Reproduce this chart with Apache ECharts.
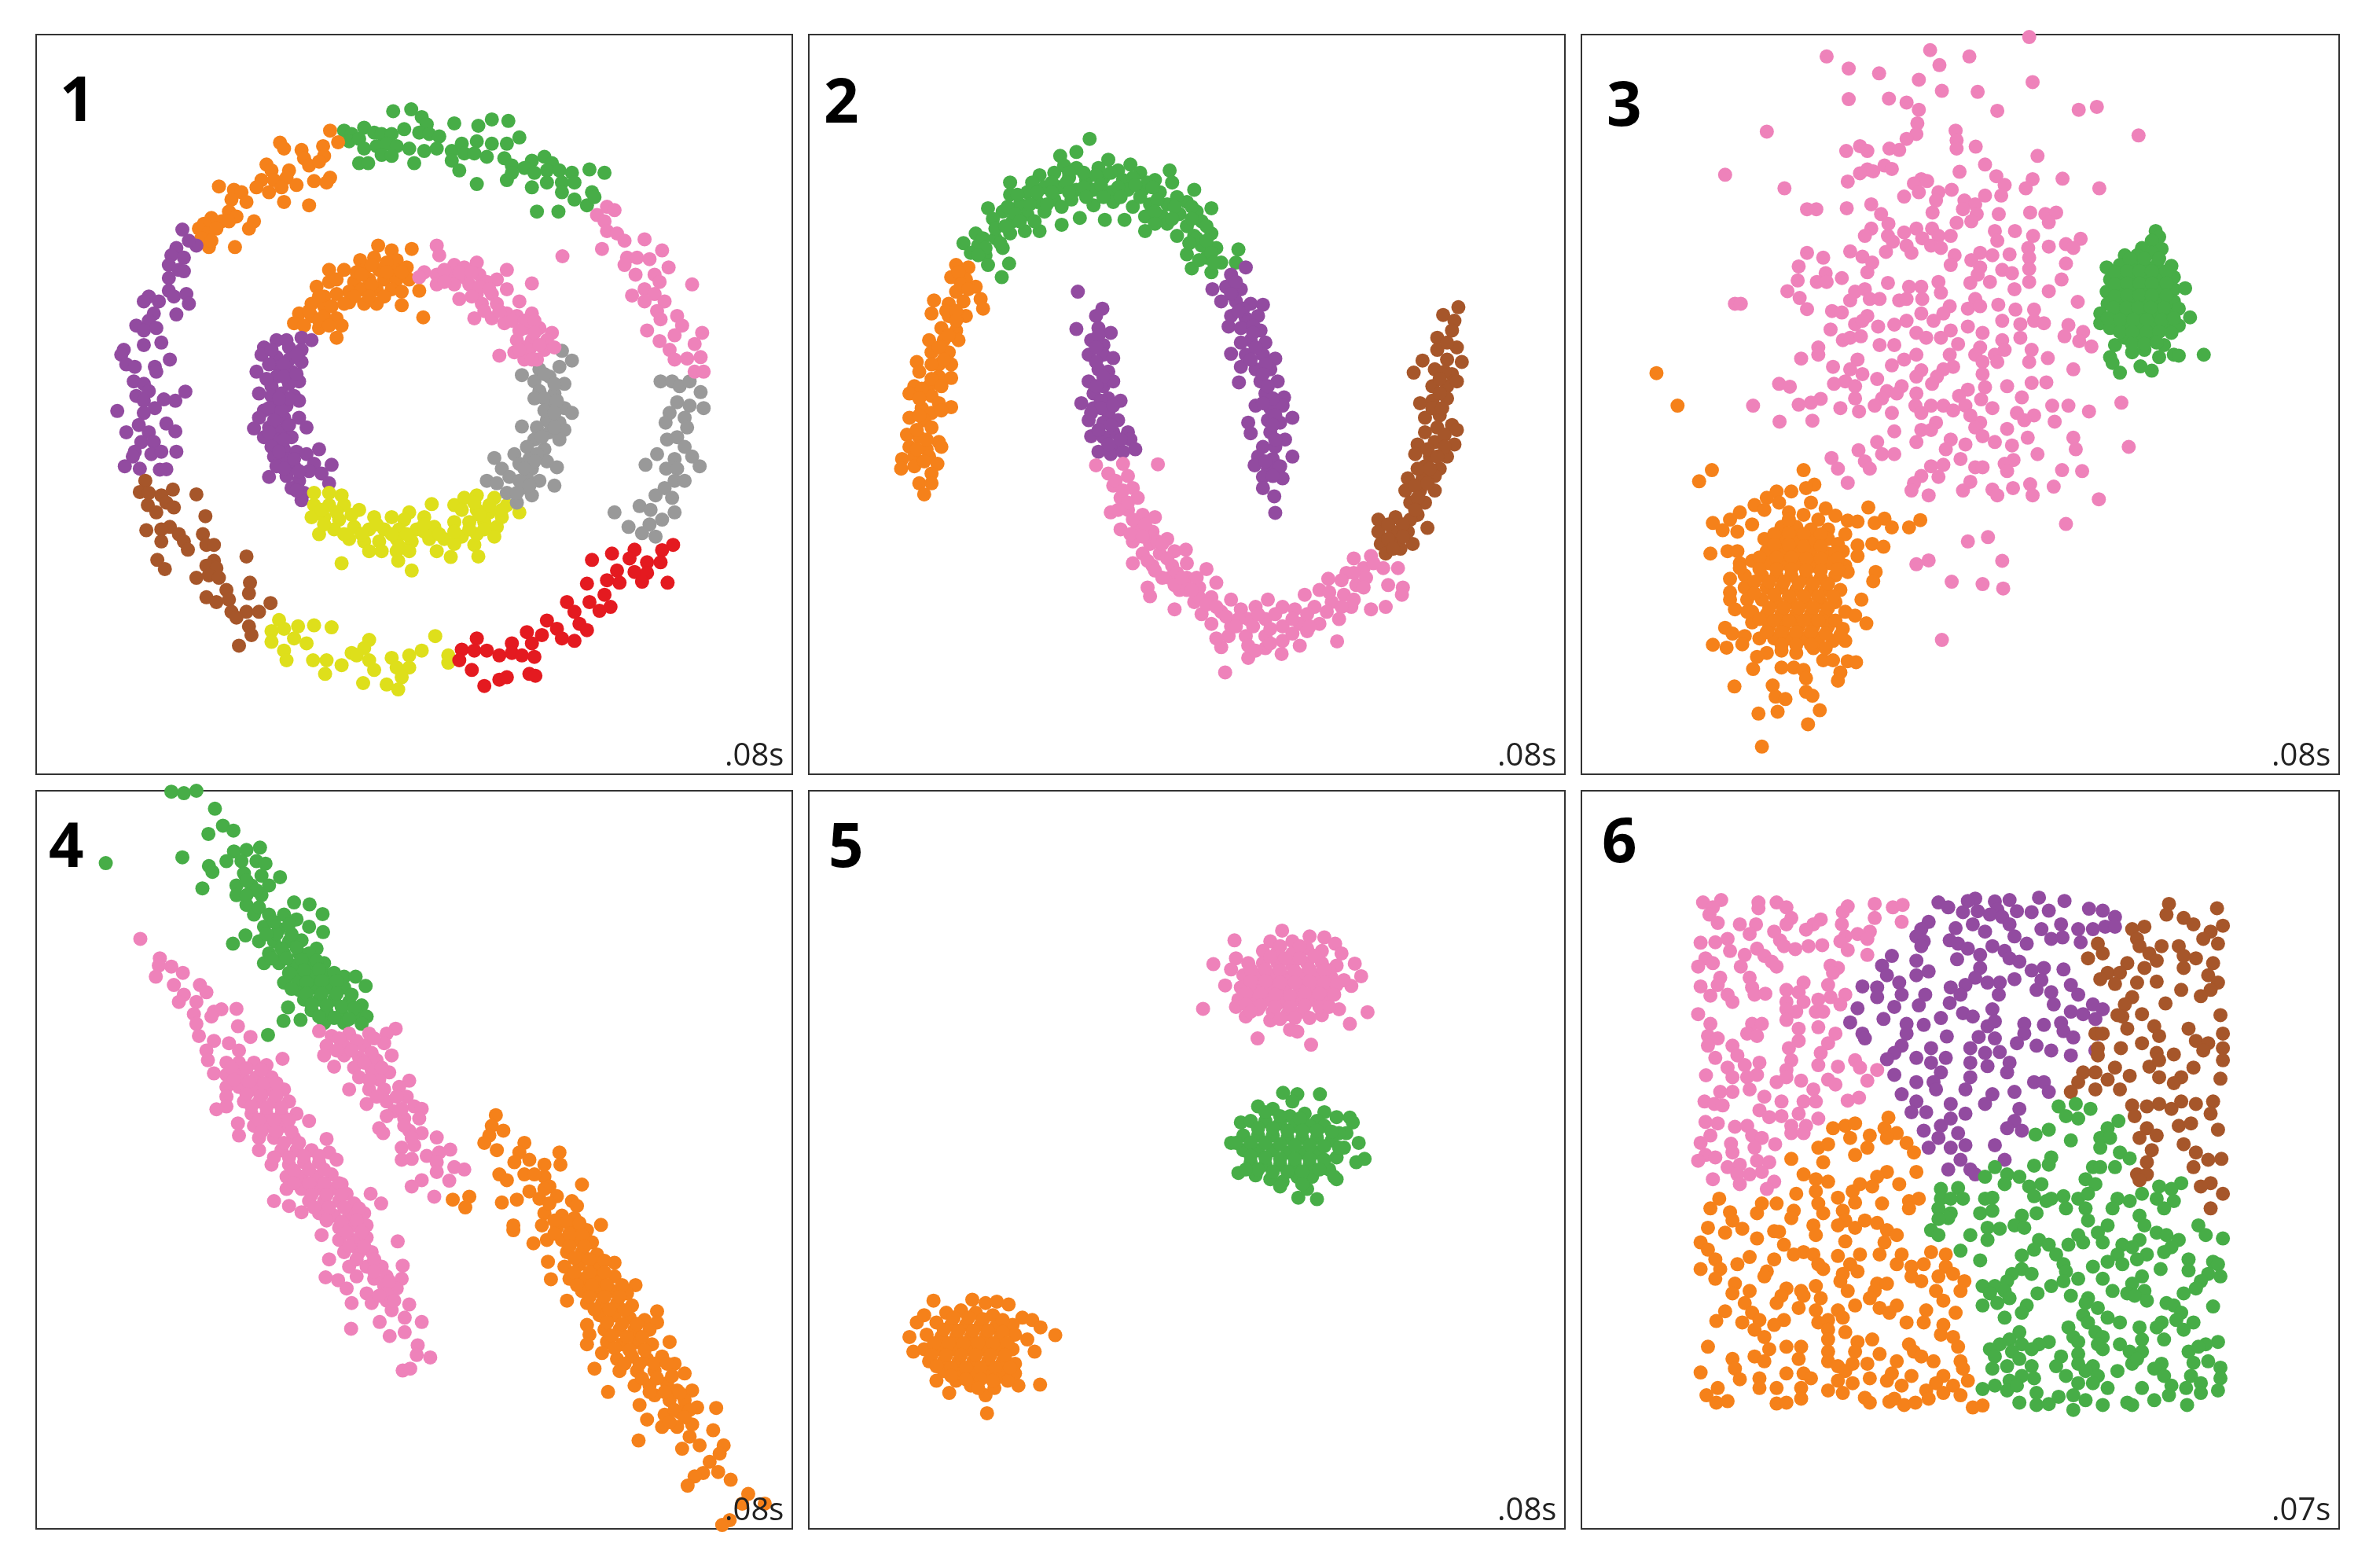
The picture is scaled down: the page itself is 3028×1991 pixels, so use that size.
<!DOCTYPE html>
<html>
<head>
<meta charset="utf-8">
<title>clusters</title>
<script src="https://cdn.jsdelivr.net/npm/echarts@6/dist/echarts.min.js"></script>
<style>html,body{margin:0;padding:0;background:#fff}#chart{width:3028px;height:1991px}</style>
</head>
<body>
<div id="chart"></div>
<script>
// colours
var ORANGE='#f5811a',GREEN='#47ad47',PINK='#ee82ba',PURPLE='#924ba0',BROWN='#a6562a',GRAY='#999999',YELLOW='#dedf1b',RED='#e41a20';

// panel 1
var p1OuterGreen=[[640,218],[655,225],[680,212],[738,178],[774,174],[795,190],[805,205],[860,203],[908,208],[935,195],[968,198],[990,232],[650,240],[670,235],[700,222],[715,225],[735,225],[760,215],[790,222],[810,225],[830,230],[680,255],[705,250],[725,245],[745,250],[770,255],[800,260],[825,255],[855,260],[875,245],[905,240],[935,245],[965,245],[670,285],[688,285],[715,268],[735,270],[780,285],[855,280],[880,265],[900,265],[925,272],[960,275],[975,290],[1015,280],[1040,272],[1055,285],[1000,295],[1020,305],[1045,300],[1070,300],[1095,305],[1130,298],[1160,305],[870,300],[905,328],[965,320],[975,305],[1015,335],[1045,325],[1075,325],[1100,325],[1135,345],[1075,345],[1100,360],[1125,372],[1025,385],[1068,385],[1140,355]];
var p1OuterOrange=[[612,218],[628,242],[512,243],[520,255],[555,258],[598,250],[560,275],[570,290],[600,270],[590,282],[485,288],[495,300],[530,300],[580,322],[612,315],[605,325],[475,320],[500,320],[525,315],[545,330],[465,335],[490,345],[515,335],[520,365],[570,372],[390,333],[420,340],[435,345],[415,360],[445,365],[410,385],[425,395],[375,398],[360,410],[395,405],[460,405],[450,420],[350,420],[368,430],[385,420],[410,405],[370,458],[422,458],[355,440],[375,445]];
var p1OuterPurple=[[317,422],[345,455],[330,445],[305,460],[295,475],[320,480],[290,495],[310,505],[290,522],[320,508],[250,560],[240,570],[290,548],[300,560],[325,555],[330,575],[305,597],[270,570],[260,595],[225,620],[250,610],[240,630],[265,625],[240,660],[275,655],[200,670],[195,680],[205,700],[222,705],[262,705],[292,690],[265,715],[220,735],[240,740],[250,755],[225,765],[240,775],[280,772],[303,775],[323,756],[187,796],[262,790],[240,800],[285,822],[303,838],[205,840],[230,825],[250,840],[235,860],[260,860],[222,880],[255,885],[275,880],[305,880],[218,890],[202,910],[232,915],[272,917],[285,916]];
var p1OuterBrown=[[243,940],[232,963],[250,965],[275,970],[298,958],[345,968],[248,990],[285,985],[300,995],[265,1005],[363,1013],[245,1042],[292,1035],[275,1040],[310,1050],[320,1065],[275,1065],[328,1082],[358,1050],[365,1072],[380,1072],[445,1096],[267,1103],[282,1122],[380,1105],[365,1115],[385,1120],[370,1135],[390,1140],[345,1140],[452,1150],[405,1165],[450,1172],[365,1180],[385,1190],[410,1185],[415,1210],[445,1210],[470,1210],[493,1192],[425,1222],[450,1240],[455,1258],[430,1280]];
var p1OuterYellow=[[510,1227],[495,1250],[520,1245],[548,1240],[580,1238],[615,1242],[495,1272],[540,1265],[565,1275],[520,1290],[525,1310],[578,1310],[605,1310],[602,1338],[635,1320],[655,1295],[690,1268],[680,1285],[665,1300],[690,1310],[700,1330],[678,1357],[735,1305],[770,1300],[795,1290],[822,1260],[745,1325],[770,1325],[755,1345],[725,1360],[748,1370],[848,1300],[848,1315]];
var p1OuterRed=[[1297,1072],[1275,1083],[1220,1082],[1175,1090],[1135,1103],[1210,1100],[1245,1108],[1272,1108],[1220,1128],[1245,1130],[1235,1148],[1286,1150],[1185,1125],[1125,1152],[1165,1145],[1190,1150],[1160,1175],[1130,1190],[1085,1190],[1100,1210],[1150,1208],[1172,1200],[1110,1235],[1125,1248],[1045,1228],[1065,1245],[1005,1252],[1035,1258],[1075,1265],[1100,1270],[1015,1275],[975,1275],[905,1265],[875,1288],[900,1290],[925,1290],[950,1300],[975,1295],[870,1310],[895,1330],[995,1300],[1020,1303],[950,1350],[965,1345],[920,1363],[1010,1338],[1022,1342]];
var p1OuterGray=[[1272,735],[1295,735],[1310,745],[1330,735],[1352,757],[1305,778],[1330,785],[1358,790],[1290,800],[1320,810],[1282,820],[1325,830],[1305,850],[1285,855],[1320,870],[1265,885],[1300,895],[1335,890],[1242,907],[1283,915],[1305,915],[1350,910],[1300,940],[1320,940],[1280,955],[1262,970],[1295,975],[1230,992],[1252,1000],[1300,1005],[1180,1005],[1275,1020],[1250,1030],[1208,1035],[1235,1048],[1262,1055]];
var p1OuterPink=[[1165,375],[1180,382],[1145,392],[1160,405],[1165,425],[1185,430],[1240,442],[1200,445],[1155,462],[1275,465],[1076,477],[1205,480],[1225,480],[1250,483],[1200,495],[1288,500],[1222,515],[1260,515],[1270,530],[1335,535],[1240,545],[1260,555],[1215,558],[1240,570],[1280,570],[1265,590],[1305,600],[1272,607],[1315,620],[1245,630],[1355,635],[1300,640],[1270,652],[1340,658],[1290,670],[1300,690],[1325,688],[1352,685],[1340,715],[1358,715]];
var p1InnerOrange=[[708,455],[735,465],[775,462],[672,485],[700,480],[745,485],[610,505],[640,505],[680,505],[710,505],[740,505],[765,500],[585,540],[610,530],[660,530],[690,525],[720,525],[745,525],[770,525],[650,550],[675,545],[705,545],[735,545],[755,550],[790,548],[600,560],[625,555],[650,572],[680,575],[705,575],[755,578],[575,575],[600,580],[550,595],[575,600],[600,600],[625,605],[635,620],[798,603],[540,615],[560,620],[590,625],[625,645],[625,525],[590,560],[615,580],[570,590],[590,610],[610,620],[665,510],[695,495],[725,490],[725,510],[695,535],[660,560],[690,560],[720,560],[675,515],[755,510],[640,575]];
var p1InnerPurple=[[555,645],[575,650],[505,650],[480,665],[530,665],[555,670],[475,680],[505,685],[530,690],[555,695],[510,705],[535,715],[465,715],[505,725],[530,740],[550,735],[495,745],[470,760],[515,760],[540,765],[500,780],[525,785],[550,775],[480,795],[505,805],[520,810],[470,810],[550,810],[460,832],[490,830],[515,835],[565,830],[480,850],[505,855],[535,850],[495,870],[520,875],[545,880],[500,890],[525,895],[565,885],[590,875],[580,905],[615,907],[505,910],[540,910],[570,920],[595,925],[490,932],[525,930],[550,940],[610,945],[535,955],[560,965],[555,980],[525,650],[545,680],[495,670],[520,700],[490,700],[520,725],[545,720],[485,730],[495,765],[530,770],[490,790],[515,795],[500,815],[530,825],[490,840],[520,855],[510,880],[540,895],[520,915],[550,920],[545,960],[510,770]];
var p1InnerYellow=[[580,965],[610,965],[635,970],[580,990],[610,990],[640,990],[670,1000],[575,1015],[600,1015],[630,1020],[815,988],[770,1005],[700,1015],[735,1015],[760,1020],[800,1015],[860,990],[880,975],[905,970],[940,975],[965,990],[990,1005],[875,1000],[905,1000],[930,1005],[955,1015],[590,1050],[620,1040],[660,1035],[690,1040],[720,1040],[750,1040],[785,1040],[820,1035],[860,1025],[890,1025],[920,1025],[945,1035],[650,1060],[680,1065],[710,1065],[745,1060],[775,1065],[810,1060],[840,1060],[875,1055],[905,1050],[940,1055],[690,1085],[745,1085],[770,1085],[825,1085],[860,1070],[900,1072],[635,1110],[748,1105],[853,1097],[908,1096],[775,1125],[595,1000],[625,1005],[655,1010],[600,1030],[640,1050],[675,1050],[705,1030],[735,1050],[765,1050],[800,1045],[830,1050],[860,1045],[890,1040],[920,1040],[900,985],[930,990],[955,1000],[715,1085],[750,1075],[800,1030],[910,1010]];
var p1InnerGray=[[1075,672],[1095,692],[1070,705],[1030,710],[995,722],[1020,735],[1050,725],[1080,740],[1030,755],[1060,760],[1020,770],[1050,785],[1080,790],[1095,800],[1045,815],[1070,820],[995,828],[1025,830],[1050,840],[1080,835],[1020,855],[1070,855],[1005,870],[1040,875],[980,885],[1010,895],[1045,900],[940,893],[955,915],[1015,915],[1065,912],[1005,935],[1030,940],[970,932],[925,940],[945,945],[1060,950],[965,965],[995,955],[1015,970],[985,985],[1040,720],[1060,740],[1040,770],[1065,775],[1040,795],[1060,800],[1060,830],[1035,850],[1025,885],[1020,900],[990,905],[1000,915],[990,940],[985,965],[1010,950]];
var p1InnerPink=[[825,455],[830,475],[905,490],[860,495],[880,500],[800,510],[825,515],[850,520],[880,520],[910,515],[965,505],[790,520],[825,535],[860,535],[890,535],[925,530],[945,525],[1015,533],[870,565],[905,555],[935,555],[965,545],[915,575],[945,575],[990,570],[965,595],[900,605],[935,605],[985,600],[1015,595],[960,615],[1000,625],[1030,625],[1055,635],[985,650],[1015,650],[1045,650],[980,675],[1010,670],[1040,670],[1060,665],[950,682],[1000,690],[1025,690],[840,505],[870,510],[895,510],[840,530],[910,540],[930,545],[895,560],[920,590],[950,590],[975,610],[1000,610],[1020,610],[990,630],[1020,635],[1000,665],[1030,660],[990,670],[1015,690]];

// panel 2
var p2Green=[[572,235],[545,262],[512,270],[610,278],[655,288],[735,300],[520,290],[545,295],[590,295],[630,300],[675,305],[470,310],[500,305],[530,315],[565,320],[600,315],[640,320],[705,320],[740,325],[410,325],[445,345],[480,335],[510,335],[545,340],[580,340],[615,345],[650,340],[680,340],[715,345],[785,340],[410,350],[430,370],[465,365],[500,360],[535,360],[580,372],[620,365],[660,375],[695,370],[730,370],[770,365],[365,378],[395,385],[445,390],[480,385],[515,412],[552,398],[603,402],[643,402],[685,395],[720,395],[755,390],[790,385],[820,378],[375,400],[415,405],[440,425],[470,425],[685,425],[730,410],[770,415],[800,405],[340,430],[315,450],[345,455],[380,440],[410,430],[750,435],[785,435],[820,430],[330,470],[360,475],[395,460],[800,455],[830,460],[875,463],[770,473],[810,480],[840,490],[780,502],[365,495],[408,492],[393,520],[820,510],[870,490],[530,305],[560,305],[585,310],[615,305],[660,315],[690,325],[495,325],[525,325],[560,335],[595,330],[630,335],[665,330],[700,335],[455,325],[465,345],[495,345],[530,345],[565,355],[600,355],[635,355],[675,355],[710,360],[750,355],[425,350],[450,370],[485,370],[515,375],[705,385],[745,375],[780,375],[405,375],[420,390],[460,405],[380,420],[400,415],[430,405],[705,410],[740,400],[780,400],[810,415],[355,440],[390,450],[360,460],[345,475],[790,440],[810,445],[775,450],[820,470],[795,485],[825,490]];
var p2Orange=[[300,495],[325,500],[290,520],[320,525],[340,540],[300,550],[350,565],[355,585],[255,568],[285,575],[315,570],[250,595],[285,600],[320,600],[270,625],[300,630],[245,650],[275,650],[305,650],[250,675],[285,675],[220,695],[265,700],[290,700],[225,715],[265,725],[290,728],[215,745],[245,745],[205,760],[250,765],[265,780],[290,788],[230,790],[250,800],[205,810],[235,815],[250,830],[200,845],[225,850],[265,860],[205,870],[240,875],[270,870],[190,895],[215,890],[245,890],[188,915],[215,910],[262,905],[250,925],[225,945],[250,945],[235,968],[305,510],[310,535],[325,545],[280,590],[300,590],[300,610],[285,640],[265,665],[275,690],[250,700],[250,730],[270,745],[230,750],[225,770],[270,795],[225,805],[220,835],[240,855],[220,875],[235,900]];
var p2PurpleLeft=[[548,550],[598,585],[585,600],[545,627],[590,625],[615,635],[575,650],[600,660],[570,680],[600,680],[620,687],[590,710],[610,715],[570,735],[600,745],[620,735],[580,760],[610,770],[555,780],[635,775],[580,790],[610,800],[570,815],[600,820],[630,815],[650,840],[620,840],[600,850],[575,848],[655,855],[630,870],[665,875],[590,880],[615,885],[640,880],[590,640],[585,665],[585,695],[600,725],[585,745],[595,775],[595,790],[620,785],[590,835],[615,825],[610,865],[635,855],[575,800]];
var p2PurpleRight=[[890,500],[860,515],[822,545],[850,540],[880,545],[840,570],[870,570],[900,575],[925,577],[860,600],[890,605],[915,600],[855,622],[880,625],[920,630],[900,650],[930,655],[860,678],[890,680],[925,680],[950,688],[880,705],[910,710],[940,710],[876,737],[920,735],[955,735],[930,760],[968,768],[910,785],[940,790],[965,785],[985,810],[895,820],[935,815],[960,820],[900,842],[940,840],[970,855],[925,870],[950,870],[915,890],[945,895],[985,890],[908,908],[935,915],[960,910],[925,932],[965,935],[925,955],[948,972],[950,1006],[870,530],[860,555],[885,585],[875,590],[905,620],[905,635],[880,655],[910,665],[900,690],[930,700],[925,720],[935,745],[945,770],[925,780],[950,805],[945,825],[950,855],[930,900],[945,930]];
var p2Pink=[[585,908],[640,905],[711,906],[610,925],[650,930],[620,950],[660,955],[635,975],[670,975],[615,1005],[650,1000],[680,1010],[705,1015],[635,1040],[670,1035],[700,1045],[660,1065],[695,1070],[730,1060],[680,1090],[715,1090],[745,1085],[768,1082],[660,1110],[700,1115],[740,1115],[770,1110],[735,1140],[770,1140],[810,1122],[690,1160],[695,1178],[755,1165],[795,1160],[830,1150],[745,1205],[785,1190],[820,1180],[860,1185],[800,1215],[840,1210],[880,1205],[910,1200],[935,1185],[965,1200],[820,1235],[860,1240],[895,1225],[930,1225],[990,1205],[1010,1175],[1040,1165],[1058,1142],[1030,1200],[1065,1190],[1090,1175],[1115,1155],[1095,1130],[1130,1120],[1110,1100],[1145,1095],[1170,1120],[1200,1120],[1180,1155],[1210,1160],[1208,1175],[1175,1200],[1145,1205],[1105,1200],[1080,1225],[1040,1235],[1000,1235],[965,1240],[855,1260],[890,1260],[930,1260],[965,1270],[1000,1280],[1076,1271],[840,1283],[895,1305],[930,1285],[963,1297],[1015,1250],[848,1335],[625,940],[640,960],[650,985],[630,1000],[660,1020],[685,1030],[655,1050],[680,1055],[710,1065],[690,1105],[720,1070],[730,1100],[750,1130],[720,1140],[745,1155],[770,1165],[790,1140],[795,1180],[810,1195],[830,1200],[850,1220],[875,1225],[905,1240],[915,1215],[950,1215],[940,1245],[985,1225],[1015,1215],[1055,1210],[1060,1170],[1085,1145],[1110,1130],[1135,1140],[1150,1110],[1130,1160],[1110,1185],[1085,1200],[895,1280],[940,1275],[910,1290],[830,1265],[870,1240],[985,1255],[1020,1240],[780,1165],[760,1140],[705,1125]];
var p2Brown=[[1323,582],[1292,598],[1315,610],[1310,630],[1280,645],[1320,665],[1280,670],[1250,692],[1300,690],[1330,695],[1232,717],[1275,710],[1310,720],[1270,745],[1300,745],[1320,735],[1245,780],[1270,775],[1300,770],[1255,810],[1285,805],[1310,825],[1255,840],[1320,835],[1240,865],[1275,860],[1315,865],[1235,885],[1265,890],[1300,890],[1255,910],[1285,915],[1220,935],[1250,935],[1275,930],[1215,960],[1245,960],[1275,960],[1225,985],[1255,985],[1240,1010],[1160,1020],[1195,1015],[1225,1020],[1160,1045],[1190,1045],[1220,1045],[1260,1037],[1165,1070],[1200,1070],[1230,1070],[1175,1090],[1205,1080],[1300,655],[1295,715],[1285,730],[1285,760],[1270,790],[1290,790],[1280,830],[1295,845],[1260,875],[1295,870],[1280,890],[1240,915],[1265,915],[1235,950],[1260,945],[1240,975],[1235,1000],[1210,1030],[1180,1030],[1180,1060],[1210,1055],[1190,1080]];

// panel 3
var p3Pink=[[900,25],[698,52],[487,65],[778,65],[717,83],[532,90],[594,100],[675,113],[907,118],[722,136],[795,138],[532,153],[614,152],[650,160],[675,175],[835,177],[1001,175],[1038,169],[672,203],[365,220],[750,218],[670,225],[650,235],[1123,228],[752,238],[752,255],[555,250],[570,260],[527,260],[615,255],[635,258],[791,251],[917,270],[280,309],[605,290],[620,297],[570,298],[555,306],[582,302],[810,288],[758,303],[833,312],[850,330],[907,318],[968,317],[530,323],[680,318],[665,327],[692,322],[675,345],[401,337],[893,337],[1043,337],[742,340],[715,345],[710,362],[645,354],[810,352],[843,352],[768,362],[790,370],[578,370],[447,380],[466,380],[528,378],[765,380],[703,387],[838,390],[598,390],[793,390],[902,387],[933,390],[955,387],[782,405],[940,407],[752,408],[613,410],[670,420],[702,420],[578,420],[565,435],[645,428],[830,425],[871,425],[715,435],[740,435],[612,435],[682,440],[622,447],[835,445],[908,435],[1005,441],[650,455],[660,470],[700,455],[720,460],[975,452],[990,460],[940,457],[898,460],[447,470],[535,467],[608,468],[748,475],[800,470],[860,473],[480,480],[560,478],[825,475],[900,480],[580,490],[740,495],[782,485],[975,492],[430,498],[800,500],[845,505],[865,512],[900,503],[570,510],[485,512],[518,522],[795,515],[428,527],[467,530],[487,530],[612,532],[900,530],[966,525],[820,530],[780,532],[680,540],[715,530],[870,545],[407,549],[545,550],[655,540],[565,545],[720,552],[940,549],[432,563],[535,568],[575,565],[595,565],[635,568],[650,565],[682,565],[790,565],[300,575],[312,575],[999,571],[447,586],[738,580],[775,585],[837,577],[800,580],[872,587],[910,587],[498,590],[518,593],[680,595],[725,595],[570,600],[545,617],[560,610],[650,610],[705,610],[845,610],[910,610],[930,615],[882,617],[592,622],[625,618],[775,622],[980,619],[495,628],[670,635],[740,630],[805,635],[1010,633],[972,642],[882,645],[520,650],[535,645],[557,642],[690,645],[720,645],[845,650],[1002,652],[470,665],[595,660],[625,660],[755,658],[800,665],[850,670],[1027,663],[905,670],[470,680],[435,688],[830,680],[645,690],[670,680],[790,680],[738,680],[900,695],[938,687],[550,690],[805,695],[835,695],[620,702],[500,705],[535,710],[745,705],[725,710],[990,710],[805,720],[560,720],[680,712],[670,725],[590,730],[712,725],[525,735],[905,738],[935,737],[502,740],[390,740],[412,746],[640,745],[702,740],[855,745],[810,747],[545,745],[610,755],[630,760],[775,752],[757,765],[670,760],[600,770],[545,770],[475,771],[885,768],[1088,779],[802,772],[337,785],[430,783],[455,779],[585,785],[668,785],[700,785],[725,785],[770,785],[825,790],[947,785],[980,785],[515,790],[553,797],[1022,797],[620,800],[680,800],[745,795],[875,800],[910,805],[391,818],[458,816],[710,820],[780,805],[800,820],[890,815],[952,818],[625,838],[790,830],[855,833],[680,835],[700,835],[670,860],[740,855],[805,848],[897,851],[990,851],[590,860],[770,865],[830,860],[865,867],[730,875],[1103,870],[995,875],[552,877],[600,885],[625,885],[917,885],[497,893],[565,900],[760,895],[868,897],[510,915],[575,915],[700,910],[725,907],[850,905],[790,912],[805,912],[967,918],[1008,920],[680,930],[715,932],[855,920],[530,944],[665,945],[780,942],[660,960],[902,947],[950,952],[765,960],[867,955],[825,958],[695,970],[835,970],[907,970],[1042,978],[975,1029],[816,1056],[775,1065],[845,1105],[695,1104],[670,1112],[742,1148],[805,1153],[847,1162],[722,1268]];
var p3Green=[[1158,425],[1165,437],[1150,445],[1170,462],[1130,460],[1095,475],[1120,475],[1150,470],[1058,500],[1085,495],[1110,495],[1135,495],[1160,495],[1190,497],[1065,525],[1090,520],[1115,520],[1140,520],[1165,520],[1195,520],[1058,550],[1085,545],[1110,545],[1135,545],[1165,545],[1195,545],[1218,543],[1060,575],[1085,570],[1110,570],[1135,570],[1165,570],[1195,570],[1045,595],[1075,595],[1100,595],[1130,595],[1160,595],[1185,590],[1205,585],[1228,603],[1045,615],[1065,625],[1095,620],[1125,620],[1155,620],[1180,620],[1205,620],[1075,660],[1095,645],[1125,645],[1150,645],[1175,660],[1110,675],[1135,670],[1065,685],[1165,685],[1195,680],[1205,682],[1256,680],[1070,697],[1085,717],[1127,704],[1150,713],[1105,482],[1135,482],[1165,482],[1075,510],[1100,508],[1125,508],[1150,508],[1180,508],[1075,535],[1100,533],[1125,533],[1150,533],[1180,533],[1075,560],[1100,558],[1125,558],[1150,558],[1180,558],[1072,583],[1098,583],[1122,583],[1148,583],[1175,583],[1060,605],[1085,608],[1112,608],[1140,608],[1170,608],[1195,605],[1085,633],[1110,633],[1140,633],[1165,633],[1190,635],[1110,658],[1135,658],[1160,655]];
var p3Orange=[[140,718],[183,785],[253,918],[227,941],[440,918],[462,948],[445,955],[415,962],[385,962],[365,975],[390,985],[340,990],[360,1000],[572,995],[310,1005],[255,1027],[290,1020],[305,1045],[335,1030],[275,1042],[485,997],[455,985],[505,1012],[530,1022],[550,1024],[585,1027],[605,1018],[620,1036],[655,1036],[678,1021],[410,1005],[440,1010],[470,1020],[395,1035],[425,1035],[455,1040],[490,1040],[525,1050],[360,1060],[395,1060],[425,1060],[460,1065],[490,1060],[550,1073],[580,1070],[603,1076],[250,1090],[285,1085],[305,1085],[365,1085],[395,1085],[425,1085],[455,1090],[490,1090],[520,1085],[550,1095],[310,1110],[335,1105],[370,1110],[400,1110],[430,1110],[460,1115],[495,1110],[525,1115],[290,1142],[320,1135],[355,1135],[385,1135],[415,1135],[445,1140],[475,1140],[505,1135],[530,1128],[587,1128],[582,1147],[320,1160],[365,1160],[395,1160],[425,1165],[455,1165],[485,1165],[515,1165],[290,1170],[290,1185],[325,1185],[355,1185],[385,1190],[415,1190],[445,1190],[475,1190],[505,1190],[558,1185],[300,1205],[335,1210],[365,1215],[395,1215],[425,1215],[455,1215],[485,1215],[525,1210],[545,1218],[568,1234],[335,1232],[370,1240],[400,1240],[430,1240],[460,1240],[490,1240],[520,1245],[280,1243],[295,1255],[320,1260],[350,1265],[380,1265],[410,1265],[440,1265],[470,1265],[500,1270],[525,1270],[255,1278],[283,1284],[315,1277],[365,1295],[395,1290],[425,1295],[460,1285],[345,1303],[395,1325],[420,1325],[480,1310],[500,1310],[530,1312],[547,1314],[337,1328],[440,1330],[515,1335],[445,1347],[510,1352],[299,1364],[377,1362],[445,1375],[458,1383],[383,1385],[403,1390],[348,1420],[387,1416],[473,1413],[449,1442],[355,1488],[410,1020],[380,1050],[410,1048],[440,1050],[475,1050],[510,1070],[380,1072],[410,1072],[440,1075],[475,1075],[505,1088],[350,1098],[385,1098],[415,1098],[445,1100],[475,1100],[510,1100],[350,1122],[385,1122],[415,1122],[445,1125],[475,1125],[510,1122],[340,1148],[370,1148],[400,1148],[430,1150],[460,1152],[490,1152],[340,1172],[380,1175],[410,1178],[440,1178],[470,1178],[500,1178],[370,1202],[400,1202],[430,1202],[460,1202],[490,1202],[350,1225],[380,1228],[410,1228],[440,1228],[470,1228],[505,1228],[365,1252],[395,1252],[425,1252],[455,1252],[485,1255],[515,1258],[395,1278],[425,1278],[455,1278],[485,1285],[310,1120],[325,1210]];

// panel 4
var p4Green=[[295,12],[320,15],[345,10],[382,47],[398,82],[419,92],[369,99],[164,159],[317,147],[370,165],[377,177],[357,211],[420,135],[445,132],[472,127],[405,155],[435,155],[465,155],[483,160],[440,180],[475,185],[512,188],[425,205],[455,205],[490,205],[425,225],[475,225],[445,245],[540,240],[571,244],[597,264],[460,265],[490,265],[520,265],[545,275],[480,290],[510,295],[570,290],[598,301],[443,308],[418,325],[470,320],[500,320],[530,320],[555,318],[585,335],[490,345],[520,345],[550,345],[480,365],[510,365],[540,370],[570,365],[600,365],[520,405],[545,395],[575,390],[605,390],[640,393],[663,393],[683,412],[550,420],[580,415],[610,415],[640,415],[560,440],[590,440],[620,440],[650,445],[675,452],[528,456],[575,462],[605,465],[635,470],[665,470],[685,475],[519,484],[553,482],[600,488],[640,488],[675,490],[488,513],[505,305],[535,305],[485,305],[515,335],[545,333],[570,345],[495,355],[525,355],[555,358],[585,360],[530,385],[560,380],[590,378],[620,385],[565,405],[595,402],[625,402],[535,418],[565,428],[595,428],[625,428],[655,430],[575,450],[605,452],[635,455],[660,458],[590,475],[620,478],[650,480],[445,195],[465,215],[445,225],[470,250],[500,280],[530,285]];
var p4PinkLarge=[[233,315],[272,355],[295,372],[270,370],[318,385],[264,393],[300,410],[352,410],[365,425],[320,430],[310,445],[345,445],[425,459],[380,465],[395,460],[340,470],[375,475],[345,490],[428,495],[453,517],[350,515],[380,525],[410,530],[365,545],[430,545],[517,562],[368,565],[405,570],[430,570],[460,570],[485,575],[380,592],[405,595],[435,595],[465,600],[495,600],[405,620],[430,620],[460,625],[490,625],[520,625],[405,640],[440,650],[470,650],[500,650],[530,650],[385,666],[405,660],[455,675],[485,675],[515,675],[545,675],[428,695],[570,690],[460,700],[490,700],[520,700],[430,720],[470,725],[500,725],[540,725],[605,727],[470,750],[515,750],[545,750],[575,750],[610,755],[495,780],[530,780],[560,775],[590,775],[625,770],[525,805],[555,805],[585,805],[615,800],[635,820],[525,830],[555,830],[585,830],[615,830],[645,840],[500,855],[530,865],[570,855],[600,855],[630,855],[660,860],[693,840],[714,860],[555,878],[590,880],[620,885],[650,885],[680,880],[595,925],[630,910],[660,905],[685,905],[630,935],[660,935],[685,930],[747,938],[610,975],[640,960],[670,960],[695,960],[650,990],[685,990],[715,990],[757,988],[603,1012],[628,1018],[665,1010],[700,1015],[725,1010],[755,1015],[645,1035],[685,1045],[720,1030],[745,1035],[655,1065],[695,1065],[725,1060],[735,1080],[770,1068],[761,1095],[711,1104],[795,1104],[654,1118],[731,1133],[761,1125],[787,1152],[785,1172],[812,1177],[757,1204],[772,1200],[415,580],[445,582],[475,585],[420,605],[450,610],[480,612],[505,612],[445,635],[475,638],[505,638],[455,660],[485,662],[515,662],[470,688],[500,688],[530,688],[475,712],[505,712],[535,712],[520,735],[550,735],[500,765],[530,765],[560,762],[590,762],[540,792],[570,790],[600,790],[540,818],[570,818],[600,818],[630,818],[575,842],[605,842],[635,842],[580,868],[610,868],[640,868],[670,870],[605,895],[635,898],[665,895],[645,920],[675,918],[650,948],[680,948],[665,975],[700,975],[700,1000],[725,1045],[710,1050],[740,1060],[730,1020]];
var p4PinkSmall=[[743,500],[725,510],[590,505],[615,515],[650,510],[690,510],[605,535],[640,535],[680,535],[720,530],[735,555],[600,555],[640,555],[670,560],[705,565],[620,578],[660,580],[695,585],[730,590],[670,600],[710,605],[770,607],[750,620],[650,625],[690,625],[720,625],[685,655],[725,650],[765,640],[740,670],[780,660],[795,665],[725,680],[760,685],[790,685],[710,705],[718,715],[770,710],[795,715],[825,724],[755,745],[780,740],[852,749],[805,762],[830,755],[755,770],[775,768],[825,775],[860,785],[880,790],[825,795],[850,813],[775,825],[795,812],[820,846],[630,520],[665,525],[700,520],[625,545],[655,545],[695,550],[680,570],[715,580],[690,605],[705,640],[745,640],[755,665],[760,700],[775,725]];
var p4Orange=[[857,852],[890,846],[882,868],[943,678],[935,700],[958,710],[930,720],[920,735],[945,750],[1000,735],[990,755],[1070,755],[980,775],[1010,770],[1040,780],[1072,780],[950,800],[965,812],[1000,800],[1040,805],[1010,835],[1050,825],[1115,821],[985,852],[955,858],[1030,850],[1065,845],[1095,855],[1105,865],[1040,880],[1075,885],[1100,890],[1153,904],[1035,905],[1065,910],[1095,910],[1125,915],[978,915],[978,905],[1018,942],[1045,935],[1075,935],[1105,935],[1135,940],[1085,960],[1115,960],[1145,965],[1047,980],[1080,990],[1110,985],[1140,990],[1180,982],[1053,1016],[1090,1015],[1120,1015],[1150,1015],[1180,1010],[1222,1028],[1085,1060],[1115,1040],[1145,1040],[1175,1040],[1205,1045],[1125,1065],[1155,1065],[1185,1065],[1215,1070],[1265,1082],[1125,1110],[1150,1090],[1180,1090],[1210,1095],[1240,1100],[1265,1105],[1130,1130],[1160,1120],[1190,1120],[1220,1120],[1250,1120],[1125,1150],[1165,1145],[1195,1150],[1225,1145],[1255,1150],[1290,1145],[1155,1168],[1185,1180],[1215,1175],[1245,1180],[1275,1175],[1140,1200],[1190,1205],[1225,1205],[1260,1205],[1300,1190],[1320,1210],[1220,1235],[1250,1235],[1285,1230],[1167,1248],[1305,1245],[1335,1245],[1230,1275],[1260,1255],[1290,1265],[1320,1265],[1245,1305],[1280,1295],[1310,1290],[1345,1280],[1383,1281],[1275,1320],[1305,1320],[1335,1315],[1377,1327],[1228,1348],[1330,1340],[1315,1365],[1350,1358],[1398,1358],[1390,1375],[1370,1392],[1357,1415],[1340,1422],[1387,1413],[1326,1441],[1412,1429],[1447,1458],[1435,1478],[1480,1478],[1410,1512],[1395,1522],[1060,895],[1085,898],[1110,900],[1060,922],[1090,922],[1115,925],[1090,948],[1120,948],[1100,972],[1130,975],[1160,978],[1100,1002],[1130,1002],[1160,1002],[1105,1028],[1135,1028],[1165,1028],[1195,1028],[1130,1052],[1160,1052],[1190,1052],[1140,1078],[1170,1078],[1200,1080],[1165,1105],[1195,1108],[1225,1108],[1175,1132],[1205,1135],[1235,1135],[1180,1158],[1210,1162],[1240,1162],[1200,1190],[1230,1190],[1260,1190],[1285,1190],[1235,1220],[1265,1220],[1295,1215],[1250,1248],[1280,1248],[1310,1250],[1300,1285],[1330,1285],[1290,1310],[1320,1300],[1020,800],[1040,830],[1050,860]];

// panel 5
var p5Pink=[[964,298],[867,318],[824,367],[848,411],[803,459],[1138,466],[1102,490],[914,520],[1023,533],[980,502],[995,506],[1020,310],[1050,312],[1072,325],[1085,345],[1112,366],[1125,392],[1105,412],[940,320],[985,320],[925,340],[955,340],[985,345],[1015,335],[1045,340],[870,355],[860,378],[895,365],[925,365],[955,365],[985,370],[1015,365],[1045,365],[1075,370],[885,390],[915,390],[945,390],[975,395],[1005,390],[1035,390],[1065,395],[1090,400],[880,415],[910,415],[940,415],[970,420],[1000,415],[1030,415],[1060,420],[875,440],[905,440],[935,440],[965,445],[995,440],[1025,440],[1055,440],[1080,460],[890,475],[915,460],[940,483],[945,465],[975,470],[1005,465],[1045,472],[870,455],[960,330],[1000,330],[1030,350],[940,352],[970,355],[1000,355],[1060,380],[900,378],[930,378],[960,380],[990,382],[1020,378],[1050,380],[900,402],[930,402],[960,405],[990,405],[1020,402],[1050,405],[1075,410],[890,428],[920,428],[950,430],[980,432],[1010,428],[1040,428],[1070,430],[890,450],[920,452],[950,455],[980,455],[1010,452],[1040,455],[1060,455],[960,480],[990,478],[1020,478],[900,465]];
var p5Green=[[966,632],[995,635],[985,650],[1041,635],[880,693],[1102,683],[1108,693],[1050,672],[1075,682],[860,735],[1120,735],[1132,768],[1115,775],[875,797],[1075,810],[997,848],[1035,851],[1015,830],[1090,745],[1095,715],[915,660],[945,665],[980,680],[1010,675],[1035,690],[900,690],[930,690],[960,695],[990,700],[1020,700],[1050,700],[1080,715],[885,720],[915,720],[945,720],[975,725],[1005,725],[1035,725],[1065,730],[885,750],[915,750],[945,750],[975,755],[1005,755],[1035,755],[1075,765],[900,775],[930,780],[960,780],[990,780],[1020,780],[1060,790],[910,802],[940,810],[965,815],[995,805],[1025,805],[1070,805],[960,680],[930,672],[1000,685],[915,705],[945,705],[975,710],[1005,710],[1035,710],[1065,712],[900,735],[930,735],[960,738],[990,740],[1020,740],[1050,742],[870,735],[900,762],[930,765],[960,768],[990,768],[1020,768],[1050,770],[915,790],[945,795],[975,795],[1005,795],[1040,790],[960,825],[890,790],[1005,820],[1080,745]];
var p5Orange=[[254,1060],[333,1058],[360,1065],[383,1062],[407,1068],[220,1105],[235,1090],[205,1135],[213,1165],[435,1095],[455,1100],[472,1115],[502,1131],[445,1140],[460,1165],[260,1225],[286,1250],[427,1235],[471,1233],[363,1292],[360,1255],[378,1240],[280,1085],[310,1080],[340,1085],[375,1090],[260,1105],[290,1110],[320,1110],[350,1110],[380,1115],[415,1110],[240,1130],[270,1135],[300,1135],[330,1135],[360,1135],[390,1135],[420,1130],[235,1160],[265,1160],[295,1160],[325,1160],[355,1160],[385,1160],[415,1160],[245,1185],[275,1185],[305,1185],[335,1185],[365,1185],[395,1185],[420,1190],[300,1225],[275,1205],[305,1210],[335,1210],[365,1210],[395,1210],[420,1210],[330,1235],[405,1225],[295,1095],[325,1095],[355,1098],[395,1100],[275,1120],[305,1122],[335,1122],[365,1122],[395,1125],[255,1148],[285,1148],[315,1148],[345,1148],[375,1148],[405,1148],[250,1172],[280,1172],[310,1172],[340,1172],[370,1172],[400,1172],[260,1195],[290,1198],[320,1198],[350,1198],[380,1198],[410,1198],[320,1222],[350,1222],[380,1222],[345,1240],[375,1225],[290,1215]];

// panel 6
var p6Pink=[[235,240],[272,235],[255,250],[248,265],[265,282],[348,240],[348,252],[385,240],[405,250],[415,272],[405,285],[310,285],[343,285],[475,275],[460,285],[445,296],[530,248],[520,260],[585,243],[622,250],[642,245],[640,280],[585,272],[518,285],[525,310],[550,305],[575,300],[515,320],[570,315],[380,300],[392,318],[400,330],[230,323],[260,322],[285,315],[290,340],[330,305],[423,336],[450,330],[478,328],[530,338],[570,348],[345,335],[360,350],[320,348],[375,362],[385,372],[240,355],[225,372],[255,365],[312,372],[495,370],[510,375],[500,385],[270,395],[330,395],[265,410],[335,415],[230,413],[490,410],[440,405],[405,420],[430,425],[250,432],[285,430],[340,430],[362,428],[495,435],[525,430],[515,450],[295,445],[405,445],[440,445],[470,440],[425,465],[465,465],[405,460],[405,482],[225,470],[250,490],[335,490],[355,490],[325,510],[345,515],[480,465],[245,515],[470,497],[430,500],[505,510],[265,520],[245,535],[430,525],[410,540],[490,530],[295,535],[260,560],[305,555],[350,570],[475,550],[415,565],[470,575],[545,565],[285,580],[320,575],[345,595],[405,585],[510,578],[555,580],[590,585],[241,596],[295,600],[325,600],[385,610],[405,600],[435,607],[490,605],[505,615],[570,607],[295,630],[330,625],[270,630],[460,625],[530,648],[553,642],[238,650],[258,655],[275,658],[360,640],[395,650],[440,650],[465,650],[350,668],[370,682],[395,680],[430,675],[470,685],[240,692],[265,695],[300,702],[325,700],[415,700],[445,700],[415,715],[440,715],[250,720],[230,735],[335,720],[355,725],[292,737],[382,738],[340,745],[295,755],[240,760],[225,772],[260,765],[345,772],[370,775],[285,785],[310,780],[255,810],[305,800],[330,800],[355,795],[310,820],[380,815],[365,830]];
var p6Purple=[[715,240],[735,250],[790,232],[775,237],[765,260],[795,258],[830,238],[860,235],[835,255],[820,265],[845,270],[875,258],[920,230],[905,260],[940,257],[972,237],[1022,253],[1050,257],[695,280],[680,295],[670,310],[685,320],[680,330],[785,285],[750,293],[810,300],[738,318],[755,325],[775,335],[825,330],[860,285],[925,295],[965,285],[1000,295],[1030,295],[1055,290],[1075,270],[1075,290],[945,315],[968,312],[1005,322],[870,310],[895,325],[850,340],[860,355],[880,362],[620,350],[600,370],[670,360],[753,357],[800,348],[610,390],[670,390],[695,382],[800,375],[930,375],[905,380],[970,378],[790,395],[870,398],[840,405],[925,400],[560,413],[590,415],[635,405],[770,410],[815,405],[915,420],[985,410],[640,430],[590,435],[688,430],[740,415],[760,430],[838,430],[945,425],[1000,430],[625,455],[550,458],[603,480],[675,452],[738,447],[950,450],[985,465],[1030,450],[1050,460],[765,468],[825,460],[1010,470],[535,487],[650,490],[685,492],[720,478],[785,475],[815,495],[830,485],[890,490],[930,492],[965,488],[1035,480],[650,510],[560,510],[890,510],[970,505],[1040,510],[565,520],[640,535],[732,516],[797,517],[830,520],[875,530],[990,518],[1035,545],[625,550],[700,540],[780,540],[915,535],[945,545],[810,550],[840,548],[985,555],[610,563],[670,560],[700,570],[730,560],[780,570],[625,595],[860,570],[815,577],[720,590],[780,600],[855,590],[910,610],[930,610],[670,610],[705,610],[640,635],[710,625],[770,625],[825,635],[940,630],[870,630],[670,650],[810,655],[880,665],[740,655],[660,672],[690,672],[720,700],[770,675],[740,685],[870,690],[855,705],[685,710],[885,710],[715,725],[755,715],[695,745],[830,740],[740,745],[770,740],[850,770],[760,770],[735,790],[780,790],[790,800]];
var p6Brown=[[1185,243],[1283,252],[1180,265],[1215,272],[1235,285],[1295,288],[1110,295],[1135,290],[1270,300],[1120,315],[1255,315],[1285,325],[1040,325],[1125,330],[1170,330],[1205,330],[1050,345],[1020,355],[1145,345],[1240,355],[1215,350],[1100,365],[1160,360],[1275,365],[1060,385],[1085,385],[1135,375],[1045,398],[1075,408],[1120,405],[1160,403],[1215,375],[1265,390],[1285,405],[1210,420],[1270,420],[1110,435],[1250,433],[1095,450],[1178,448],[1130,470],[1090,475],[1080,472],[1290,472],[1100,500],[1155,495],[1225,500],[1165,515],[1035,510],[1050,510],[1240,525],[1295,510],[1130,530],[1040,540],[1087,540],[1160,550],[1265,530],[1255,545],[1040,555],[1295,540],[1195,553],[1145,578],[1165,565],[1235,580],[1295,565],[1010,590],[1075,580],[1035,590],[1105,597],[1210,600],[1165,600],[1290,603],[1060,605],[1000,610],[1195,612],[1035,625],[1085,625],[985,630],[1110,658],[1140,660],[1165,655],[1190,665],[1210,650],[1240,655],[1275,650],[1115,680],[1270,675],[1140,705],[1205,700],[1230,695],[1285,708],[1125,725],[1160,720],[1215,738],[1150,750],[1240,755],[1140,775],[1265,770],[1292,768],[1235,785],[1120,800],[1140,800],[1125,812],[1270,818],[1250,825],[1295,840],[1270,870]];
var p6Orange=[[613,683],[525,700],[545,695],[500,705],[605,705],[630,715],[575,720],[535,725],[470,745],[490,738],[610,725],[650,735],[570,745],[545,760],[665,755],[415,768],[480,775],[440,800],[610,795],[590,805],[670,795],[465,810],[490,815],[555,820],[580,825],[635,820],[425,840],[465,835],[540,835],[268,850],[355,860],[385,860],[510,848],[545,858],[655,855],[675,850],[250,870],[290,878],[345,880],[420,875],[470,860],[600,860],[520,875],[480,880],[655,870],[295,895],[565,895],[415,890],[525,895],[590,900],[245,910],[315,912],[380,917],[460,905],[510,905],[545,910],[610,915],[280,920],[465,925],[390,918],[630,925],[230,940],[345,932],[525,938],[605,940],[245,955],[400,945],[440,960],[460,965],[510,968],[555,965],[595,965],[640,965],[700,960],[730,965],[260,975],[330,970],[380,975],[420,965],[470,985],[535,985],[630,985],[660,990],[685,985],[730,990],[230,995],[270,995],[305,985],[365,1000],[480,995],[520,1005],[550,1000],[660,1010],[745,1005],[715,1010],[300,1025],[360,1010],[515,1020],[590,1025],[610,1025],[680,1020],[768,1020],[260,1015],[530,1040],[405,1035],[435,1040],[465,1030],[295,1045],[330,1040],[395,1050],[440,1050],[585,1040],[710,1040],[760,1040],[320,1065],[385,1065],[475,1055],[575,1055],[725,1060],[545,1070],[630,1070],[280,1082],[335,1085],[430,1075],[465,1080],[510,1080],[595,1075],[615,1085],[690,1080],[750,1085],[262,1102],[315,1105],[350,1100],[400,1100],[470,1105],[490,1100],[520,1095],[650,1105],[685,1105],[340,1120],[380,1110],[490,1120],[525,1125],[725,1110],[360,1135],[720,1130],[745,1135],[490,1140],[550,1145],[580,1140],[655,1150],[245,1155],[370,1160],[405,1155],[435,1155],[490,1165],[545,1165],[665,1165],[755,1155],[340,1175],[360,1185],[295,1180],[430,1180],[490,1185],[595,1170],[680,1175],[510,1195],[540,1190],[570,1190],[630,1185],[705,1185],[760,1185],[300,1200],[230,1208],[405,1210],[440,1210],[525,1205],[620,1210],[765,1200],[310,1222],[350,1220],[455,1220],[575,1220],[610,1225],[660,1215],[725,1215],[350,1240],[385,1240],[435,1240],[510,1225],[540,1230],[640,1235],[710,1230],[745,1235],[775,1225],[265,1240],[242,1255],[490,1245],[690,1245],[435,1262],[520,1250],[565,1260],[625,1262],[725,1250],[760,1255],[262,1270],[285,1267],[385,1272],[405,1270],[575,1270],[615,1268],[645,1275],[668,1270],[695,1262],[785,1280],[805,1276]];
var p6Green=[[960,660],[995,655],[1025,665],[975,680],[1000,685],[1082,690],[1060,705],[940,708],[913,718],[985,730],[1045,725],[1065,725],[1085,755],[1045,745],[1105,767],[945,765],[910,782],[940,780],[830,785],[810,805],[855,800],[880,805],[1030,785],[1045,785],[1075,785],[850,820],[900,825],[925,820],[1015,810],[1035,820],[720,830],[755,828],[1210,818],[1165,825],[1190,830],[1130,840],[720,850],[740,850],[765,850],[810,850],[825,848],[910,845],[945,850],[970,845],[1000,850],[1020,840],[1080,850],[1105,855],[1160,850],[1195,855],[715,870],[740,880],[800,880],[825,875],[935,855],[975,870],[1015,870],[1070,870],[1175,870],[735,890],[715,892],[885,885],[915,880],[1020,895],[1125,885],[870,905],[890,910],[1060,905],[1135,905],[1245,905],[700,915],[815,910],[840,912],[1000,925],[1040,920],[1160,920],[1260,925],[780,925],[715,925],[815,935],[920,935],[1295,932],[1125,935],[1180,925],[940,945],[980,945],[1050,940],[1090,945],[1205,935],[760,957],[910,955],[1010,940],[1110,950],[1190,950],[955,965],[1080,965],[1140,965],[885,967],[800,977],[970,985],[1060,980],[1090,985],[1175,960],[1225,975],[1275,980],[885,995],[1030,990],[1120,975],[1225,998],[1168,995],[1285,985],[865,1005],[905,1005],[975,1000],[1050,1015],[1000,1015],[1265,1005],[1290,1010],[805,1030],[830,1030],[855,1020],[1130,1010],[1250,1020],[945,1030],[970,1020],[1110,1025],[1240,1035],[820,1045],[850,1040],[917,1045],[1070,1040],[1100,1045],[1135,1040],[1215,1045],[860,1055],[985,1050],[1020,1055],[1115,1050],[805,1070],[835,1065],[1015,1065],[1140,1060],[1180,1065],[1195,1070],[1275,1072],[895,1070],[885,1085],[1010,1090],[1040,1075],[1060,1095],[1210,1085],[1170,1105],[1200,1100],[1235,1105],[850,1095],[1020,1105],[1085,1105],[980,1115],[1125,1115],[1160,1115],[1035,1125],[1215,1120],[880,1125],[860,1140],[990,1135],[1050,1135],[1175,1140],[840,1150],[940,1145],[920,1150],[885,1150],[1000,1145],[1040,1150],[1130,1140],[1285,1145],[820,1160],[865,1165],[905,1160],[1050,1160],[1085,1150],[1105,1165],[1260,1150],[830,1175],[1130,1165],[1225,1165],[1245,1155],[880,1180],[965,1175],[1000,1170],[1110,1190],[1120,1180],[1235,1188],[1265,1185],[825,1200],[855,1195],[905,1195],[955,1195],[1000,1190],[1030,1195],[1170,1190],[1290,1198],[1080,1205],[1155,1200],[885,1215],[910,1220],[975,1215],[1015,1205],[1040,1215],[1175,1215],[1230,1215],[1290,1220],[830,1235],[860,1225],[1000,1230],[1030,1230],[1190,1235],[1250,1230],[1130,1240],[805,1242],[855,1245],[875,1235],[915,1250],[1060,1240],[1220,1240],[1285,1245],[960,1258],[990,1255],[1250,1250],[1185,1255],[880,1270],[1015,1265],[1100,1270],[1155,1265],[915,1275],[940,1273],[990,1285],[1050,1275],[1222,1275],[1110,1275]];

var panelNames=['1','2','3','4','5','6'];
var panelTimes=['.08s','.08s','.08s','.08s','.08s','.07s'];

// frame of each panel in px, axis range is the same frame in data units
var panels=[
	{left:46,top:44,width:962,height:941,x:[25,1535],y:[20,1545],nameLeft:76,nameTop:109,clusters:[[p1OuterGreen,GREEN],[p1OuterOrange,ORANGE],[p1OuterPurple,PURPLE],[p1OuterBrown,BROWN],[p1OuterYellow,YELLOW],[p1OuterRed,RED],[p1OuterGray,GRAY],[p1OuterPink,PINK],[p1InnerOrange,ORANGE],[p1InnerPurple,PURPLE],[p1InnerYellow,YELLOW],[p1InnerGray,GRAY],[p1InnerPink,PINK]]},
	{left:1029,top:44,width:962,height:941,x:[0,1540],y:[20,1545],nameLeft:1048,nameTop:111,clusters:[[p2Green,GREEN],[p2Orange,ORANGE],[p2PurpleLeft,PURPLE],[p2PurpleRight,PURPLE],[p2Pink,PINK],[p2Brown,BROWN]]},
	{left:2012,top:44,width:964,height:941,x:[-13,1532],y:[20,1545],nameLeft:2044,nameTop:115,clusters:[[p3Pink,PINK],[p3Green,GREEN],[p3Orange,ORANGE]]},
	{left:46,top:1006,width:962,height:939,x:[25,1535],y:[10,1530],nameLeft:62,nameTop:1058,clusters:[[p4Green,GREEN],[p4PinkLarge,PINK],[p4PinkSmall,PINK],[p4Orange,ORANGE]]},
	{left:1029,top:1006,width:962,height:939,x:[0,1540],y:[10,1530],nameLeft:1054,nameTop:1058,clusters:[[p5Pink,PINK],[p5Green,GREEN],[p5Orange,ORANGE]]},
	{left:2012,top:1006,width:964,height:939,x:[-13,1532],y:[10,1530],nameLeft:2038,nameTop:1052,clusters:[[p6Pink,PINK],[p6Purple,PURPLE],[p6Brown,BROWN],[p6Orange,ORANGE],[p6Green,GREEN]]}
];

var grids=[],xAxes=[],yAxes=[],seriesList=[],titles=[];
for(var i=0;i<panels.length;i++){
	var p=panels[i];
	grids.push({show:true,left:p.left,top:p.top,width:p.width,height:p.height,backgroundColor:'#fff',borderColor:'#333',borderWidth:2});
	xAxes.push({type:'value',gridIndex:i,min:p.x[0],max:p.x[1],show:false});
	yAxes.push({type:'value',gridIndex:i,min:p.y[0],max:p.y[1],inverse:true,show:false});
	for(var j=0;j<p.clusters.length;j++){
		seriesList.push({type:'scatter',xAxisIndex:i,yAxisIndex:i,data:p.clusters[j][0],symbolSize:18,
			itemStyle:{color:p.clusters[j][1],opacity:1},silent:true,clip:true});
	}
	// panel number
	titles.push({text:panelNames[i],left:p.nameLeft,top:p.nameTop-16,padding:0,
		textStyle:{fontFamily:'Open Sans',fontWeight:'bold',fontSize:78,color:'#000'}});
	// time
	titles.push({text:panelTimes[i],left:p.left+p.width-86,top:p.top+p.height-42,padding:0,
		textStyle:{fontFamily:'Open Sans',fontWeight:'normal',fontSize:40,color:'#222'}});
}

var chart=echarts.init(document.getElementById('chart'));
chart.setOption({animation:false,backgroundColor:'#fff',title:titles,grid:grids,xAxis:xAxes,yAxis:yAxes,tooltip:{show:false},series:seriesList});
</script>
</body>
</html>
